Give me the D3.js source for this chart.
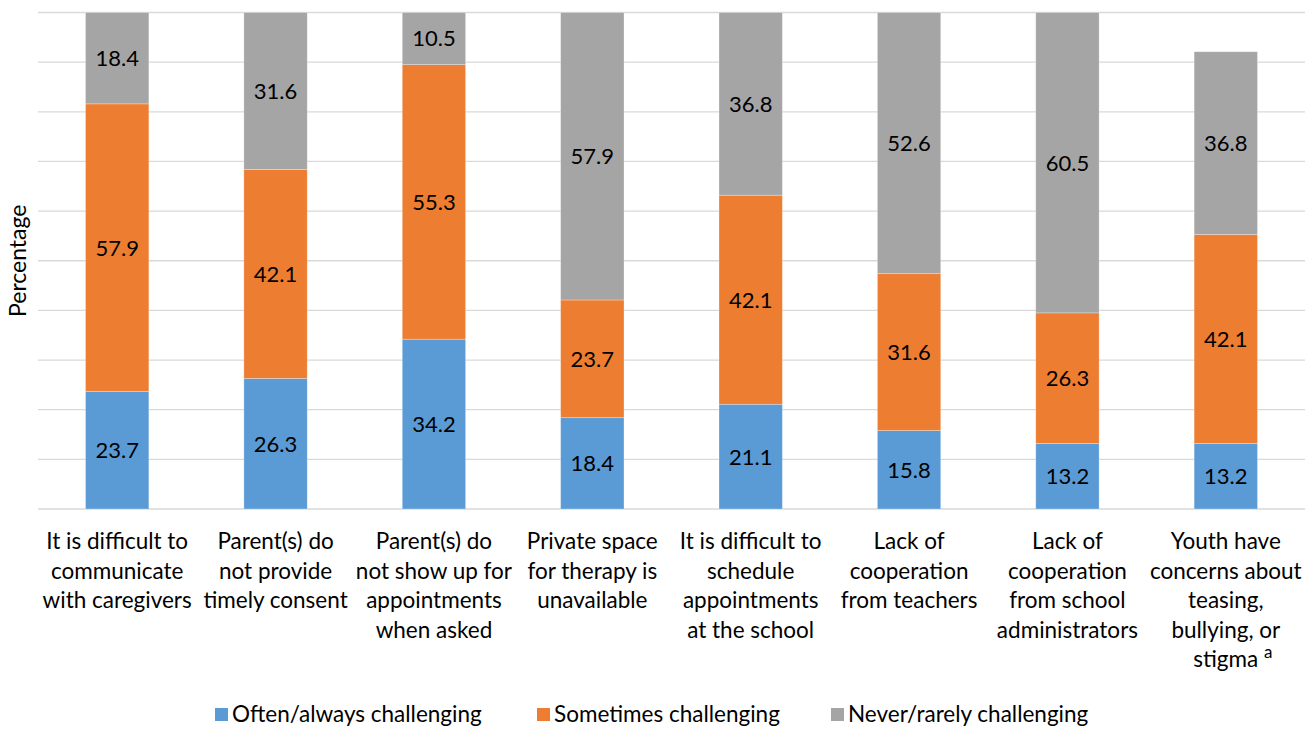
<!DOCTYPE html>
<html><head><meta charset="utf-8">
<script src="https://cdn.jsdelivr.net/npm/d3@7/dist/d3.min.js"></script>
<style>body{margin:0;background:#fff;} svg{display:block;}</style>
</head><body>
<svg id="c" width="1315" height="729"></svg>
<script>
const categories = [
  "It is difficult to communicate with caregivers",
  "Parent(s) do not provide timely consent",
  "Parent(s) do not show up for appointments when asked",
  "Private space for therapy is unavailable",
  "It is difficult to schedule appointments at the school",
  "Lack of cooperation from teachers",
  "Lack of cooperation from school administrators",
  "Youth have concerns about teasing, bullying, or stigma"
];
const categoryLines = [
  ["It is difficult to","communicate","with caregivers"],
  ["Parent(s) do","not provide","timely consent"],
  ["Parent(s) do","not show up for","appointments","when asked"],
  ["Private space","for therapy is","unavailable"],
  ["It is difficult to","schedule","appointments","at the school"],
  ["Lack of","cooperation","from teachers"],
  ["Lack of","cooperation","from school","administrators"],
  ["Youth have","concerns about","teasing,","bullying, or","stigma"]
];
const seriesNames = ["Often/always challenging","Sometimes challenging","Never/rarely challenging"];
const often     = [23.7, 26.3, 34.2, 18.4, 21.1, 15.8, 13.2, 13.2];
const sometimes = [57.9, 42.1, 55.3, 23.7, 42.1, 31.6, 26.3, 42.1];
const never     = [18.4, 31.6, 10.5, 57.9, 36.8, 52.6, 60.5, 36.8];
const yTicks = [0,10,20,30,40,50,60,70,80,90,100];
const colors = ["#5B9BD5","#ED7D31","#A5A5A5"];

(function(){
const svg = d3.select("#c");
const font = "Lato, 'Open Sans', sans-serif";
const fs = 22.5;
const pLeft = 38, pRight = 1305, pTop = 12.5, pBottom = 509;

const x = d3.scaleBand().domain(categories).range([pLeft,pRight]).paddingInner(0.6).paddingOuter(0.3);
const y = d3.scaleLinear().domain([0,100]).range([pBottom, pTop]);

svg.append("g").selectAll("line").data(yTicks).join("line")
  .attr("x1", pLeft).attr("x2", pRight)
  .attr("y1", d=>y(d)).attr("y2", d=>y(d))
  .attr("stroke", "#D9D9D9").attr("stroke-width", 1.3);

const rows = categories.map((c,i)=>({cat:c, often:often[i], sometimes:sometimes[i], never:never[i]}));
const stack = d3.stack().keys(["often","sometimes","never"])(rows);

const g = svg.append("g");
stack.forEach((layer, li) => {
  g.append("g").selectAll("rect").data(layer).join("rect")
    .attr("x", d=>x(d.data.cat))
    .attr("width", x.bandwidth())
    .attr("y", d=>y(d[1]))
    .attr("height", d=>y(d[0])-y(d[1]))
    .attr("fill", colors[li])
    .attr("stroke", "#ffffff").attr("stroke-opacity", 0.35).attr("stroke-width", 0.8);
  g.append("g").selectAll("text").data(layer).join("text")
    .attr("x", d=>x(d.data.cat)+x.bandwidth()/2)
    .attr("y", d=>(y(d[0])+y(d[1]))/2)
    .attr("dy", "0.36em")
    .attr("text-anchor","middle")
    .attr("font-family", font).attr("font-size", 22).attr("fill","#000")
    .text(d=>(d[1]-d[0]).toFixed(1));
});

const xl = svg.append("g");
categories.forEach((c,i)=>{
  const cx = x(c)+x.bandwidth()/2;
  const t = xl.append("text").attr("text-anchor","middle")
    .attr("font-family", font).attr("font-size", fs).attr("fill","#000");
  categoryLines[i].forEach((ln,j)=>{
    t.append("tspan").attr("x", cx).attr("y", 549 + j*29.6).text(ln);
  });
  if (i === categories.length-1) {
    t.select("tspan:last-child").attr("x", cx+7).text("stigma\u00A0");
    t.append("tspan").attr("dy", -9).attr("font-size", 17).text("a");
  }
});

svg.append("text")
  .attr("transform", `translate(26,${(pTop+pBottom)/2}) rotate(-90)`)
  .attr("text-anchor","middle")
  .attr("font-family", font).attr("font-size", 23).attr("fill","#000")
  .text("Percentage");

const legX = [215, 537, 831];
const lg = svg.append("g");
seriesNames.forEach((n,i)=>{
  lg.append("rect").attr("x", legX[i]).attr("y", 708).attr("width", 13).attr("height", 13).attr("fill", colors[i]);
  lg.append("text").attr("x", legX[i]+17).attr("y", 722)
    .attr("font-family", font).attr("font-size", fs).attr("fill","#000").text(n);
});
})();
</script>
</body></html>
